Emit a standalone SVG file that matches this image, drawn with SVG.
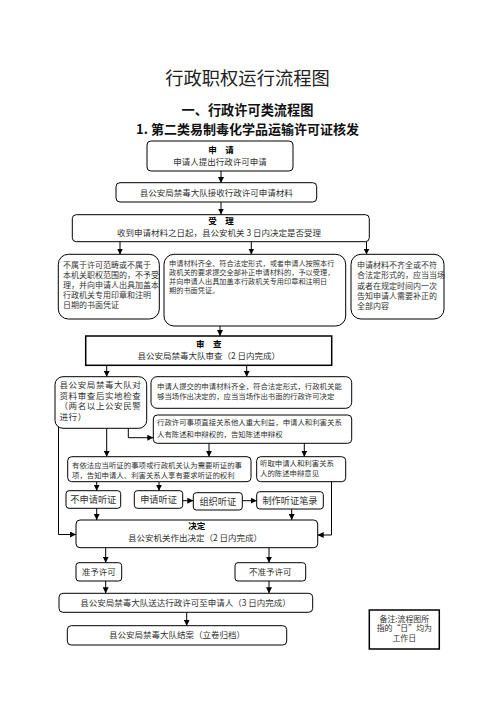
<svg xmlns="http://www.w3.org/2000/svg" width="496" height="702" viewBox="0 0 496 702">
<defs>
<marker id="ah" viewBox="0 0 6 6" refX="6" refY="3" markerWidth="6" markerHeight="6" markerUnits="userSpaceOnUse" orient="auto">
<path d="M0,0 L6,3 L0,6 z" fill="#000"/>
</marker>
<style>
text{font-family:"Noto Sans CJK SC","Noto Sans",sans-serif;fill:#333}
.box{fill:#fff;stroke:#000;stroke-width:1}
.sq{fill:#fff;stroke:#000;stroke-width:1.5}
.h{font-weight:bold;fill:#000;font-size:8.5px}
.s{font-size:8.5px}
.c{text-anchor:middle}
.t8{font-size:8px}
.t72{font-size:7.2px}
.t75{font-size:7.4px}
.t9{font-size:9.2px}
.tl{font-size:8.5px;letter-spacing:0.6px}
.tn{font-size:7.9px}
.con{fill:none;stroke:#000;stroke-width:1;marker-end:url(#ah)}
</style>
</defs>
<rect width="496" height="702" fill="#fff"/>
<g id="titles">
<text x="247.5" y="84.5" class="c" style="font-size:18.3px;fill:#222">行政职权运行流程图</text>
<text x="247.5" y="114.5" class="c" style="font-size:13.2px;font-weight:bold;fill:#111">一、行政许可类流程图</text>
<text x="247.5" y="134" class="c" style="font-size:13px;font-weight:bold;fill:#111">1. 第二类易制毒化学品运输许可证核发</text>
</g>
<g id="connectors">
<path class="con" d="M221,171 V183"/>
<path class="con" d="M221,202 V214.5"/>
<path class="con" d="M120,242 V254.5"/>
<path class="con" d="M251.3,242 V254.5"/>
<path class="con" d="M366.5,242 V254.5"/>
<path class="con" d="M220,326 V336"/>
<path class="con" d="M106.7,365.5 V376.7"/>
<path class="con" d="M246.7,365.5 V376.7"/>
<path class="con" d="M128.3,428 V437.7 H153.3"/>
<path class="con" d="M58.5,426 V534.5 H76"/>
<path class="con" d="M106.7,428.3 V456.7"/>
<path class="con" d="M209,443.3 V456.7"/>
<path class="con" d="M304.3,443.3 V456.7"/>
<path class="con" d="M331.5,481.7 V535 H317.7"/>
<path class="con" d="M96.7,481.7 V490.7"/>
<path class="con" d="M159,481.7 V490.7"/>
<path class="con" d="M182.7,500.7 H193.3"/>
<path class="con" d="M242.3,500.7 H256.7"/>
<path class="con" d="M96.7,508.3 V520"/>
<path class="con" d="M291.7,509 V520"/>
<path class="con" d="M105.7,547.7 V562.7"/>
<path class="con" d="M269,547.7 V562.7"/>
<path class="con" d="M105.7,581 V593.3"/>
<path class="con" d="M269,581 V593.3"/>
<path class="con" d="M186.7,612.3 V625.7"/>
</g>
<g id="apply">
<rect class="box" x="147" y="141" width="146" height="30" rx="4"/>
<text x="221" y="153.3" class="h c">申　请</text>
<text x="220" y="164.6" class="s c">申请人提出行政许可申请</text>
</g>
<g id="receive">
<rect class="box" x="116" y="182.7" width="200.7" height="19.3" rx="4"/>
<text x="216.3" y="195.8" class="s c">县公安局禁毒大队接收行政许可申请材料</text>
</g>
<g id="accept">
<rect class="box" x="72.3" y="214.7" width="297" height="27" rx="4"/>
<text x="221" y="224.3" class="h c">受　理</text>
<text x="219" y="235.6" class="s c">收到申请材料之日起，县公安机关 3 日内决定是否受理</text>
</g>
<g id="reject">
<rect class="box" x="58.3" y="254.3" width="101" height="64.7" rx="10"/>
<text class="t8" x="63" y="267.5">不属于许可范畴或不属于</text>
<text class="t8" x="63" y="278">本机关职权范围的，不予受</text>
<text class="t8" x="63" y="288">理，并向申请人出具加盖本</text>
<text class="t8" x="63" y="298">行政机关专用印章和注明</text>
<text class="t8" x="63" y="308">日期的书面凭证</text>
</g>
<g id="accepted">
<rect class="box" x="164" y="254.3" width="181.7" height="71.7" rx="10"/>
<text class="t72" x="169" y="265.8">申请材料齐全、符合法定形式，或者申请人按照本行</text>
<text class="t72" x="169" y="274.5">政机关的要求提交全部补正申请材料的，予以受理，</text>
<text class="t72" x="169" y="283.5">并向申请人出具加盖本行政机关专用印章和注明日</text>
<text class="t72" x="169" y="292.5">期的书面凭证。</text>
</g>
<g id="incomplete">
<rect class="box" x="351" y="254.3" width="93" height="64.7" rx="10"/>
<text class="t8" x="357" y="267.5">申请材料不齐全或不符</text>
<text class="t8" x="357" y="278">合法定形式的，应当当场</text>
<text class="t8" x="357" y="289">或者在规定时间内一次</text>
<text class="t8" x="357" y="299">告知申请人需要补正的</text>
<text class="t8" x="357" y="309">全部内容</text>
</g>
<g id="review">
<rect class="sq" x="85.7" y="336" width="246" height="29.3"/>
<text x="208.7" y="347.3" class="h c">审　查</text>
<text x="208.7" y="358.6" class="s c">县公安局禁毒大队审查（2 日内完成）</text>
</g>
<g id="inspect">
<rect class="box" x="55" y="376.7" width="91.7" height="51.6" rx="8"/>
<text class="tl" x="59.5" y="388.3">县公安局禁毒大队对</text>
<text class="tl" x="59.5" y="398.8">资料审查后实地检查</text>
<text class="tl" x="59.5" y="409.3">（两名以上公安民警</text>
<text class="tl" x="59.5" y="419.8">进行）</text>
</g>
<g id="onsite">
<rect class="box" x="151" y="376.7" width="200.7" height="31.6" rx="6"/>
<text class="t75" x="157" y="389.3">申请人提交的申请材料齐全，符合法定形式，行政机关能</text>
<text class="t75" x="157" y="398.8">够当场作出决定的，应当当场作出书面的行政许可决定</text>
</g>
<g id="notify">
<rect class="box" x="153.3" y="415" width="198.4" height="28.3" rx="4"/>
<text class="t75" x="157" y="424.5">行政许可事项直接关系他人重大利益，申请人和利害关系</text>
<text class="t75" x="157" y="437">人有陈述和申辩权的，告知陈述申辩权</text>
</g>
<g id="hearing">
<rect class="box" x="67.7" y="456.7" width="183.3" height="25" rx="4"/>
<text class="t75" x="72" y="467.6">有依法应当听证的事项或行政机关认为需要听证的事</text>
<text class="t75" x="72" y="477.6">项，告知申请人、利害关系人享有要求听证的权利</text>
</g>
<g id="listen">
<rect class="box" x="256.7" y="456.7" width="89" height="25" rx="4"/>
<text class="t75" x="260" y="466">听取申请人和利害关系</text>
<text class="t75" x="260" y="476">人的陈述申辩意见</text>
</g>
<g id="nohearing">
<rect class="box" x="66" y="490.7" width="54.7" height="17.6" rx="3"/>
<text x="93.3" y="502.8" class="t9 c">不申请听证</text>
</g>
<g id="applyhearing">
<rect class="box" x="134.3" y="490.7" width="48.4" height="17.6" rx="3"/>
<text x="158.5" y="502.8" class="t9 c">申请听证</text>
</g>
<g id="organize">
<rect class="box" x="193.3" y="492.7" width="49" height="17.3" rx="3"/>
<text x="217.8" y="504.5" class="t9 c">组织听证</text>
</g>
<g id="record">
<rect class="box" x="256.7" y="491.7" width="66.6" height="17.3" rx="3"/>
<text x="290" y="503.5" class="t9 c">制作听证笔录</text>
</g>
<g id="decide">
<rect class="box" x="76" y="520" width="241.7" height="27.7" rx="4"/>
<text x="196.8" y="529.4" class="h c">决定</text>
<text x="195" y="540.7" class="s c">县公安机关作出决定（2 日内完成）</text>
</g>
<g id="grant">
<rect class="box" x="76" y="562.7" width="45.7" height="18.3" rx="3"/>
<text x="98.8" y="575" class="s c">准予许可</text>
</g>
<g id="deny">
<rect class="box" x="235" y="562.7" width="70.7" height="18.3" rx="3"/>
<text x="270.3" y="575" class="s c">不准予许可</text>
</g>
<g id="deliver">
<rect class="box" x="59" y="593.3" width="253.7" height="19" rx="4"/>
<text x="185.5" y="605.5" class="s c">县公安局禁毒大队送达行政许可至申请人（3 日内完成）</text>
</g>
<g id="close">
<rect class="box" x="67.3" y="625.7" width="219.4" height="19.3" rx="4"/>
<text x="177" y="638" class="s c">县公安局禁毒大队结案（立卷归档）</text>
</g>
<g id="note">
<rect class="sq" x="369.3" y="610" width="70" height="39"/>
<text x="404.3" y="621.8" class="tn c">备注:流程图所</text>
<text x="404.3" y="631.3" class="tn c">指的“日”均为</text>
<text x="404.3" y="640.8" class="tn c">工作日</text>
</g>
</svg>
